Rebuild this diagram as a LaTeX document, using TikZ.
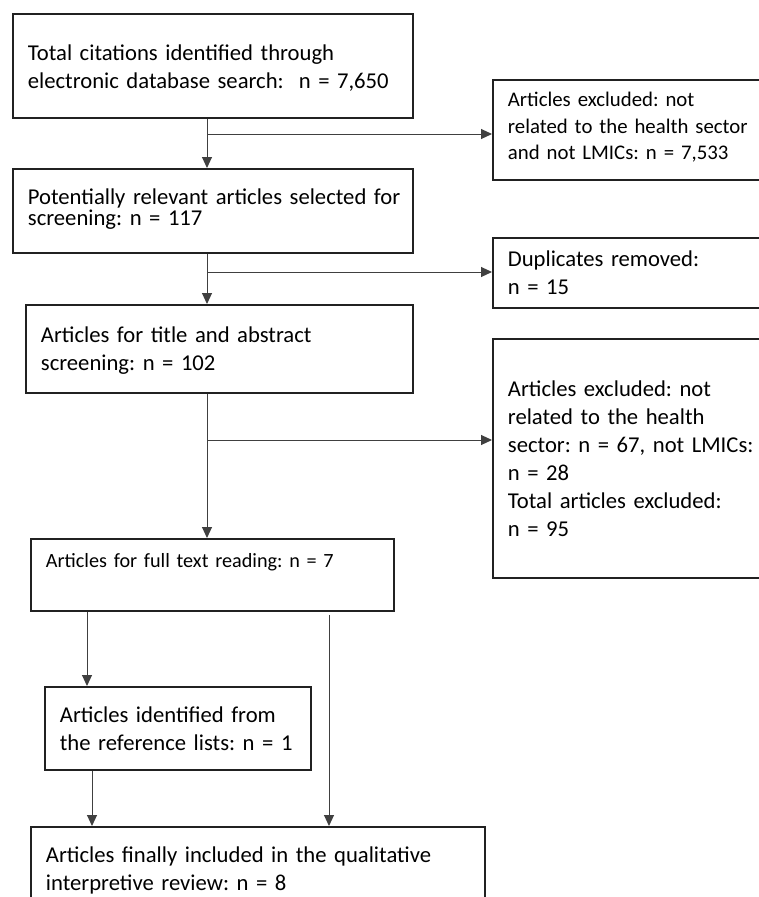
\documentclass[tikz,border=0pt]{standalone}
\usepackage{fontspec}
\setmainfont{Carlito}
\frenchspacing
\usetikzlibrary{arrows.meta}

\begin{document}
\begin{tikzpicture}[x=1pt, y=-1pt,
    box/.style={draw=black!87, line width=1.8pt, anchor=north west, align=left, inner xsep=15pt, inner ysep=0pt, text height=0pt, font=\fontsize{22.65}{28}\selectfont},
    link/.style={draw=black!75, line width=1pt, -{Triangle[width=10pt, length=11pt]}}
]
\path[fill=white, use as bounding box] (0,0) rectangle (759,897);

% main column
\node[box, minimum width=400pt, minimum height=104pt, text width=370pt, text depth=10pt] (total) at (12,13)
    {Total citations identified through\\electronic database search:\ \ n = 7,650};
\node[box, minimum width=400pt, minimum height=84pt, text width=370pt, text depth=12pt, font=\fontsize{22.65}{21}\selectfont] (relevant) at (12,168)
    {\mbox{Potentially relevant articles selected for}\\screening: n = 117};
\node[box, minimum width=387pt, minimum height=88pt, text width=357pt, text depth=12pt] (abstract) at (25,304)
    {Articles for title and abstract\\screening: n = 102};
\node[box, minimum width=363pt, minimum height=72pt, text width=333pt, text depth=14pt, font=\fontsize{20.2}{26}\selectfont] (fulltext) at (30,538)
    {Articles for full text reading: n = 7};
\node[box, minimum width=266pt, minimum height=83pt, text width=236pt, text depth=11pt] (reflists) at (44,686)
    {Articles identified from\\the reference lists: n = 1};
\node[box, minimum width=454pt, minimum height=100pt, text width=424pt, text depth=28pt] (included) at (30,826)
    {Articles finally included in the qualitative\\interpretive review: n = 8};

% exclusions on the right
\node[box, minimum width=320pt, minimum height=100pt, text width=290pt, text depth=46pt, font=\fontsize{20.8}{26.5}\selectfont] (excl1) at (492,79)
    {Articles excluded: not\\related to the health sector\\and not LMICs: n = 7,533};
\node[box, minimum width=320pt, minimum height=70pt, text width=290pt, text depth=12pt] (dupl) at (492,237)
    {Duplicates removed:\\n = 15};
\node[box, minimum width=320pt, minimum height=239pt, text width=290pt, text depth=123pt] (excl2) at (492,338)
    {Articles excluded: not\\related to the health\\sector: n = 67, not LMICs:\\n = 28\\Total articles excluded:\\n = 95};

% connectors
\coordinate (mainx) at (207,0);
\coordinate (leftx) at (87,0);
\coordinate (leftxb) at (92,0);
\coordinate (rightx) at (329,0);
\coordinate (split1) at (207,134);
\coordinate (split2) at (207,272);
\coordinate (split3) at (207,440);

\draw[link] (total.south -| mainx) -- (relevant.north -| mainx);
\draw[link] (split1) -- (excl1.west |- split1);
\draw[link] (relevant.south -| mainx) -- (abstract.north -| mainx);
\draw[link] (split2) -- (dupl.west |- split2);
\draw[link] (abstract.south -| mainx) -- (fulltext.north -| mainx);
\draw[link] (split3) -- (excl2.west |- split3);
\draw[link] (fulltext.south -| leftx) -- (reflists.north -| leftx);
\draw[link] (reflists.south -| leftxb) -- (included.north -| leftxb);
\draw[link] ([yshift=-3pt]fulltext.south -| rightx) -- (included.north -| rightx);
\end{tikzpicture}
\end{document}
